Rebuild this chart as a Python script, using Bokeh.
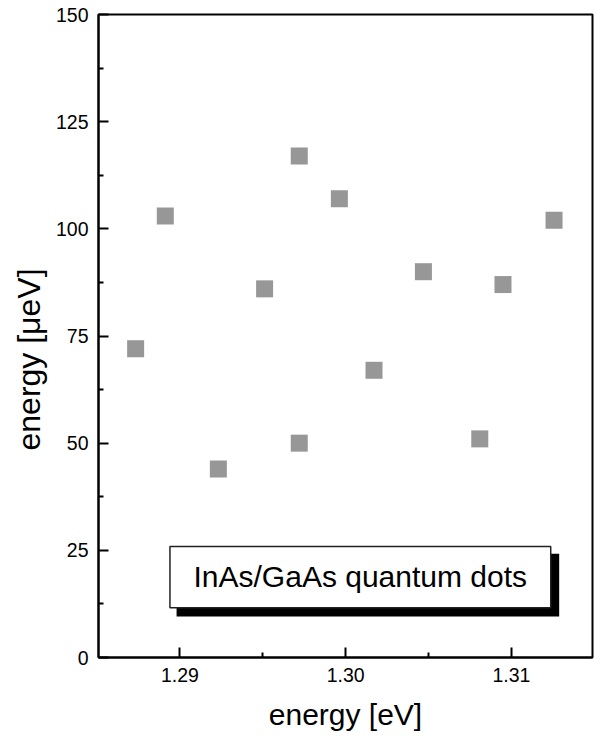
from bokeh.plotting import figure
from bokeh.models import FixedTicker, BoxAnnotation, Label, Range1d, Title
from bokeh.embed import file_html
from bokeh.resources import INLINE

# data
energy_eV = [1.28733, 1.28912, 1.29232, 1.29511, 1.2972, 1.2972, 1.29962, 1.30171, 1.30469, 1.30809, 1.30949, 1.31257]
energy_ueV = [72, 103, 44, 86, 117, 50, 107, 67, 90, 51, 87, 102]
x_ticks = [1.29, 1.30, 1.31]
x_minor = [1.285, 1.295, 1.305, 1.315]
y_ticks = [0, 25, 50, 75, 100, 125, 150]
y_minor = [12.5, 37.5, 62.5, 87.5, 112.5, 137.5]

FONT = "Liberation Sans"

p = figure(width=595, height=739, output_backend="svg", toolbar_location=None,
           x_range=Range1d(1.28509, 1.31489), y_range=Range1d(0, 150),
           min_border_left=98, min_border_right=3, min_border_top=14, min_border_bottom=82)
p.xgrid.visible = False
p.ygrid.visible = False
p.background_fill_color = "white"
p.border_fill_color = "white"
p.outline_line_color = "black"
p.outline_line_width = 2

p.scatter(energy_eV, energy_ueV, marker="square", size=17, fill_color="#979797", line_color=None)

for ax, ticks, minor in ((p.xaxis[0], x_ticks, x_minor), (p.yaxis[0], y_ticks, y_minor)):
    ax.ticker = FixedTicker(ticks=ticks, minor_ticks=minor)
    ax.axis_line_width = 2
    ax.axis_line_color = "black"
    ax.major_tick_in = 10
    ax.major_tick_out = 0
    ax.minor_tick_in = 5
    ax.minor_tick_out = 0
    ax.major_tick_line_width = 2
    ax.minor_tick_line_width = 2
    ax.major_tick_line_color = "black"
    ax.minor_tick_line_color = "black"
    ax.major_label_text_font = FONT
    ax.major_label_text_font_size = "19.5px"
    ax.major_label_text_color = "black"
    ax.axis_label_text_font = FONT
    ax.axis_label_text_font_size = "30px"
    ax.axis_label_text_font_style = "normal"
    ax.axis_label_text_color = "black"
    ax.major_label_standoff = 10

p.xaxis.axis_label = "energy [eV]"
p.xaxis.major_label_overrides = {1.29: "1.29", 1.30: "1.30", 1.31: "1.31"}
p.xaxis.axis_label_standoff = 13

# y-axis title, placed slightly below the frame centre like the reference
p.add_layout(Title(text="energy [μeV]", align="left", offset=207, standoff=12,
                   text_font=FONT, text_font_size="32px", text_font_style="normal",
                   text_color="black"), "left")

shadow = BoxAnnotation(left=1.28980, right=1.31288, top=24.2, bottom=9.56,
                       fill_color="black", fill_alpha=1.0, line_color=None)
box = BoxAnnotation(left=1.28940, right=1.31237, top=25.9, bottom=11.6,
                    fill_color="white", fill_alpha=1.0, line_color="#222222", line_width=1.5,
                    line_alpha=1.0)
p.add_layout(shadow)
p.add_layout(box)
p.add_layout(Label(x=1.30088, y=18.9, text="InAs/GaAs quantum dots", text_align="center",
                   text_baseline="middle", text_font=FONT, text_font_size="30px", text_color="black"))

open("out.html", "w").write(file_html(p, INLINE))
